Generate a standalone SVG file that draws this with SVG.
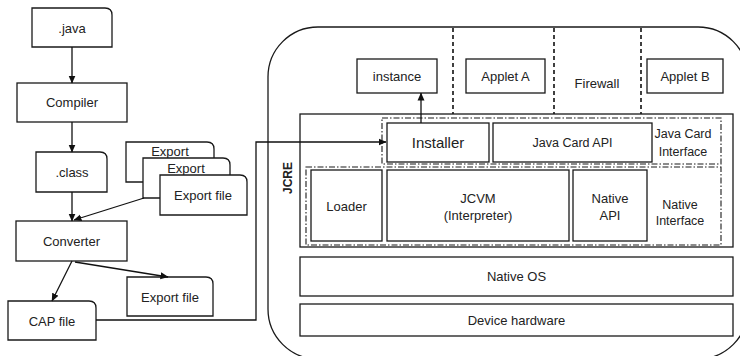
<svg xmlns="http://www.w3.org/2000/svg" width="740" height="356" viewBox="0 0 740 356">
  <defs>
    <marker id="arrow" markerWidth="8" markerHeight="8" refX="7.5" refY="4" orient="auto" markerUnits="userSpaceOnUse">
      <path d="M0,0.5 L8,4 L0,7.5 Z" fill="#111"/>
    </marker>
    <style>
      .box { fill: #fff; stroke: #1a1a1a; stroke-width: 1.3; }
      .dd { fill: none; stroke: #1a1a1a; stroke-width: 1.1; stroke-dasharray: 6 2 1.5 2; }
      .fw { fill: none; stroke: #111; stroke-width: 1.6; stroke-dasharray: 4 3; }
      .edge { fill: none; stroke: #111; stroke-width: 1.3; }
      text { font-family: "Liberation Sans", Arial, sans-serif; font-size: 13px; fill: #222; text-anchor: middle; dominant-baseline: central; }
      .sm { font-size: 12.5px; }
      .big { font-size: 15px; }
    </style>
  </defs>

  <rect width="740" height="356" fill="#fff"/>

  <!-- Tool chain (left) -->
  <g id="java">
    <path class="box" d="M32,8 H105 Q112,8 112,15 V47 H32 Z"/>
    <text x="72" y="28">.java</text>
  </g>
  <g id="compiler">
    <rect class="box" x="17" y="83" width="110" height="39"/>
    <text x="72" y="102.5">Compiler</text>
  </g>
  <g id="class">
    <path class="box" d="M36,152 H100 Q107,152 107,159 V192 H36 Z"/>
    <text x="72" y="172">.class</text>
  </g>
  <g id="export-stack">
    <path class="box" d="M126,142 H207 Q214,142 214,149 V182 H126 Z"/>
    <text x="170" y="151">Export</text>
    <path class="box" d="M143,158 H223 Q230,158 230,165 V198 H143 Z"/>
    <text x="186" y="168">Export</text>
    <path class="box" d="M160,175 H240 Q247,175 247,182 V215 H160 Z"/>
    <text x="203" y="195">Export file</text>
  </g>
  <g id="converter">
    <rect class="box" x="16" y="221" width="111" height="40"/>
    <text x="71.5" y="241">Converter</text>
  </g>
  <g id="export-out">
    <path class="box" d="M127,277 H206 Q213,277 213,284 V316 H127 Z"/>
    <text x="170" y="297">Export file</text>
  </g>
  <g id="cap">
    <path class="box" d="M8,301 H89 Q96,301 96,308 V340 H8 Z"/>
    <text x="52" y="321">CAP file</text>
  </g>

  <!-- Card runtime (right) -->
  <g id="card">
    <rect class="box" x="268" y="27" width="480" height="332" rx="50" ry="50"/>
  </g>
  <g id="firewalls">
    <line class="fw" x1="453" y1="28" x2="453" y2="114"/>
    <line class="fw" x1="554" y1="28" x2="554" y2="114"/>
    <line class="fw" x1="641" y1="28" x2="641" y2="114"/>
    <text x="597" y="83">Firewall</text>
  </g>
  <g id="instance">
    <rect class="box" x="357" y="59" width="80" height="34"/>
    <text x="397" y="76">instance</text>
  </g>
  <g id="applet-a">
    <rect class="box" x="466" y="59" width="79" height="34"/>
    <text x="505.5" y="76">Applet A</text>
  </g>
  <g id="applet-b">
    <rect class="box" x="647" y="59" width="76" height="34"/>
    <text x="685" y="76">Applet B</text>
  </g>

  <g id="jcre">
    <rect class="box" x="300" y="114" width="433" height="133"/>
    <text x="288" y="178" transform="rotate(-90 288 178)" style="font-weight:bold;font-size:12px">JCRE</text>
  </g>
  <g id="java-card-interface">
    <rect class="dd" x="382" y="118" width="339" height="46"/>
    <text class="sm" x="683" y="134">Java Card</text>
    <text class="sm" x="683" y="152">Interface</text>
  </g>
  <g id="installer">
    <rect class="box" x="387" y="123" width="102" height="39"/>
    <text class="big" x="438" y="142.5">Installer</text>
  </g>
  <g id="java-card-api">
    <rect class="box" x="493" y="123" width="159" height="39"/>
    <text class="sm" x="572.5" y="142.5">Java Card API</text>
  </g>
  <g id="native-interface">
    <rect class="dd" x="306" y="167" width="415" height="78"/>
    <text class="sm" x="680" y="205">Native</text>
    <text class="sm" x="680" y="221">Interface</text>
  </g>
  <g id="loader">
    <rect class="box" x="311" y="170" width="71" height="71"/>
    <text x="346.5" y="206">Loader</text>
  </g>
  <g id="jcvm">
    <rect class="box" x="387" y="170" width="182" height="71"/>
    <text x="478" y="198">JCVM</text>
    <text x="478" y="215">(Interpreter)</text>
  </g>
  <g id="native-api">
    <rect class="box" x="573" y="170" width="74" height="71"/>
    <text x="610" y="198">Native</text>
    <text x="610" y="215">API</text>
  </g>
  <g id="native-os">
    <rect class="box" x="300" y="257" width="433" height="39"/>
    <text x="516.5" y="276.5">Native OS</text>
  </g>
  <g id="device-hardware">
    <rect class="box" x="300" y="304" width="433" height="32"/>
    <text x="516.5" y="320">Device hardware</text>
  </g>

  <!-- Connectors -->
  <g id="connectors">
    <line class="edge" x1="72" y1="47" x2="72" y2="83" marker-end="url(#arrow)"/>
    <line class="edge" x1="72" y1="122" x2="72" y2="152" marker-end="url(#arrow)"/>
    <line class="edge" x1="72" y1="192" x2="72" y2="221" marker-end="url(#arrow)"/>
    <line class="edge" x1="144" y1="198" x2="74" y2="220" marker-end="url(#arrow)"/>
    <line class="edge" x1="72" y1="261" x2="52" y2="301" marker-end="url(#arrow)"/>
    <line class="edge" x1="75" y1="262" x2="168" y2="277" marker-end="url(#arrow)"/>
    <polyline class="edge" points="96,320 256,320 256,142 386,142" marker-end="url(#arrow)"/>
    <line class="edge" x1="421" y1="123" x2="421" y2="93" marker-end="url(#arrow)"/>
  </g>
</svg>
